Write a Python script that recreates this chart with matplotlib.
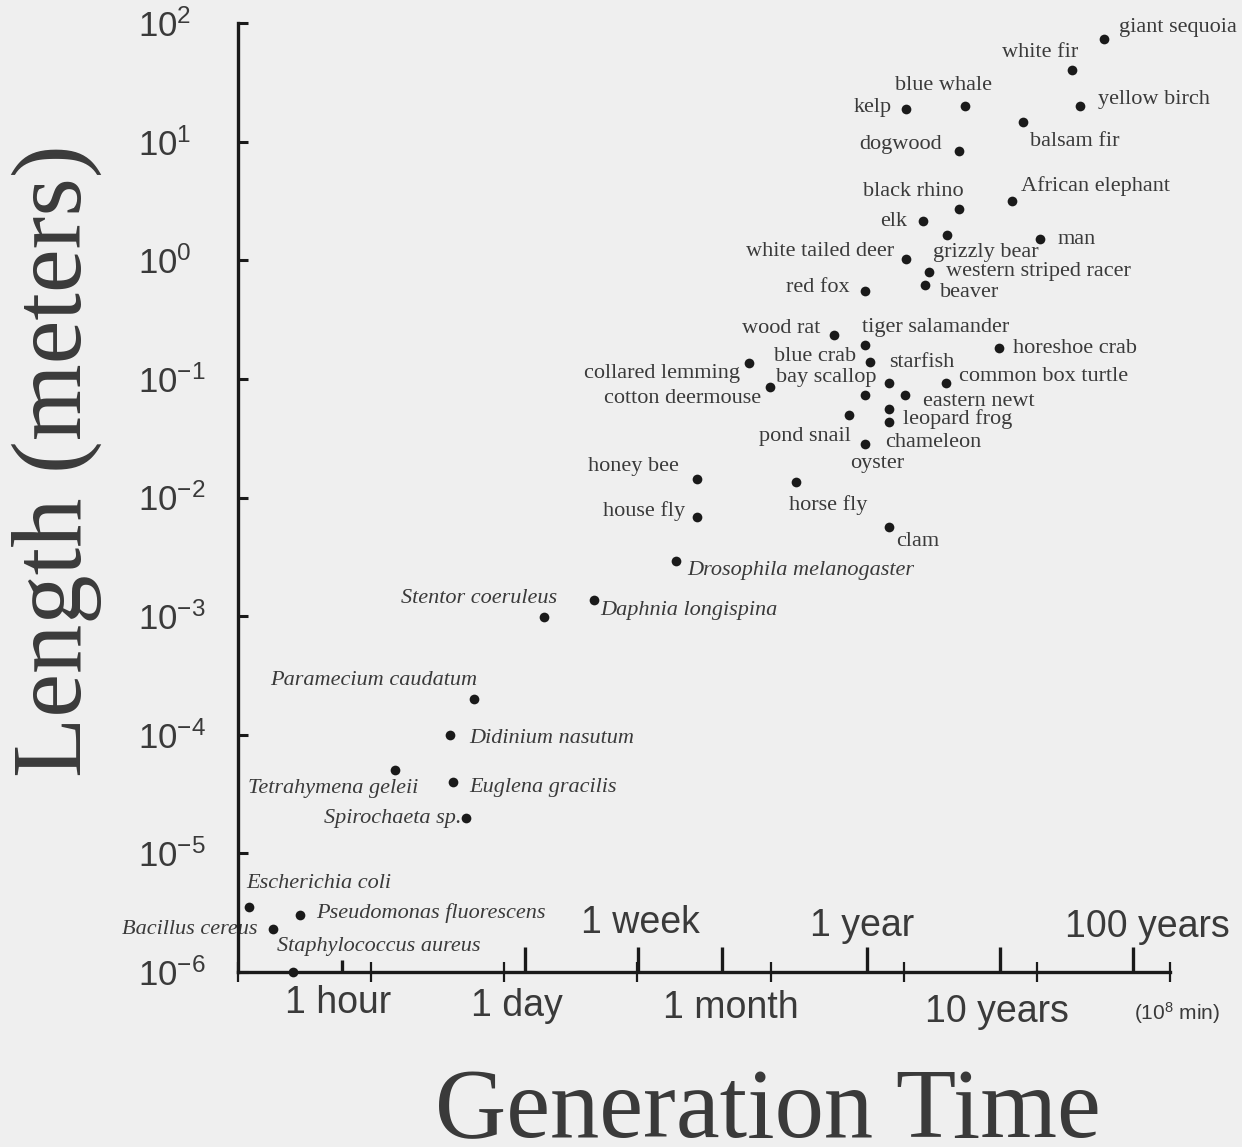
import matplotlib
matplotlib.use("Agg")
import matplotlib.pyplot as plt
from matplotlib.ticker import FixedLocator, NullFormatter

plt.rcParams["mathtext.fontset"] = "custom"
plt.rcParams["mathtext.rm"] = "Liberation Sans"
plt.rcParams["mathtext.it"] = "Liberation Sans:italic"

# ── data: generation time (minutes) vs. body length (meters) ──────────
names = [
    "giant sequoia", "white fir", "yellow birch", "blue whale", "kelp",
    "balsam fir", "dogwood", "African elephant", "black rhino", "elk",
    "grizzly bear", "man", "white tailed deer", "western striped racer",
    "beaver", "red fox",
    "wood rat", "tiger salamander", "blue crab", "horeshoe crab",
    "collared lemming", "cotton deermouse", "starfish", "eastern newt",
    "bay scallop", "common box turtle", "pond snail", "leopard frog",
    "chameleon", "oyster",
    "honey bee", "horse fly", "house fly", "clam",
    "Drosophila melanogaster", "Daphnia longispina", "Stentor coeruleus",
    "Paramecium caudatum", "Didinium nasutum", "Tetrahymena geleii",
    "Euglena gracilis", "Spirochaeta sp.", "Escherichia coli",
    "Bacillus cereus", "Pseudomonas fluorescens", "Staphylococcus aureus",
]
gen_time_min = [
    3.2e7, 1.85e7, 2.1e7, 2.9e6, 1.04e6,
    7.9e6, 2.6e6, 6.5e6, 2.6e6, 1.4e6,
    2.1e6, 1.06e7, 1.04e6, 1.56e6,
    1.45e6, 5.1e5,
    3.0e5, 5.1e5, 5.6e5, 5.2e6,
    6.9e4, 9.9e4, 7.8e5, 1.02e6,
    5.1e5, 2.07e6, 3.9e5, 7.7e5,
    7.7e5, 5.1e5,
    2.8e4, 1.56e5, 2.8e4, 7.7e5,
    1.95e4, 4.7e3, 2.0e3,
    590, 390, 150,
    410, 520, 12.2,
    18.2, 29, 26,
]
length_m = [
    73, 40, 20, 20, 18.8,
    14.6, 8.3, 3.16, 2.7, 2.14,
    1.63, 1.51, 1.02, 0.80,
    0.62, 0.55,
    0.234, 0.193, 0.139, 0.182,
    0.135, 0.085, 0.093, 0.073,
    0.073, 0.092, 0.050, 0.056,
    0.0435, 0.028,
    0.0143, 0.0135, 0.0068, 0.0056,
    0.0029, 0.00137, 0.00099,
    2.0e-4, 1.0e-4, 5.0e-5,
    4.0e-5, 2.0e-5, 3.5e-6,
    2.3e-6, 3.0e-6, 1.0e-6,
]
italic_names = [
    "Drosophila melanogaster", "Daphnia longispina", "Stentor coeruleus",
    "Paramecium caudatum", "Didinium nasutum", "Tetrahymena geleii",
    "Euglena gracilis", "Spirochaeta sp.", "Escherichia coli",
    "Bacillus cereus", "Pseudomonas fluorescens", "Staphylococcus aureus",
]

# time-unit ticks along the x axis (minutes)
unit_ticks = [60, 1440, 10080, 43200, 525600, 5256000, 52560000]
unit_labels = ["1 hour", "1 day", "1 week", "1 month", "1 year", "10 years", "100 years"]
decade_ticks = [1e1, 1e2, 1e3, 1e4, 1e5, 1e6, 1e7, 1e8]
y_ticks = [1e-6, 1e-5, 1e-4, 1e-3, 1e-2, 1e-1, 1e0, 1e1, 1e2]

# ── label layout: (ha, dx, dy) in pixels from the dot, y downward ─────
label_layout = [
    ("left", 15, -12), ("right", 6, -18), ("left", 18, -6), ("center", -22, -20), ("right", -14, -2),
    ("left", 7, 19), ("right", -17, -7), ("left", 9, -15), ("right", 5, -18), ("right", -16, 0),
    ("left", -14, 17), ("left", 17, 0), ("right", -12, -8), ("left", 17, 0),
    ("left", 15, 8), ("right", -15, -4),
    ("right", -14, -7), ("left", -3, -18), ("right", -14, -5), ("left", 14, 0),
    ("right", -9, 10), ("right", -9, 11), ("left", 0, -20), ("left", 18, 6),
    ("right", 12, -18), ("left", 13, -7), ("right", 2, 22), ("left", 14, 10),
    ("left", -3, 21), ("center", 12, 19),
    ("right", -18, -13), ("left", -7, 23), ("right", -12, -6), ("left", 8, 14),
    ("left", 11, 9), ("left", 6, 11), ("right", 13, -18),
    ("right", 3, -19), ("left", 19, 4), ("right", 24, 18),
    ("left", 17, 6), ("right", -5, 1), ("left", -3, -24),
    ("right", -15, 0), ("left", 17, -2), ("left", -16, -25),
]
# (dx, dy) pixels for time-unit labels relative to their tick on the axis
unit_label_pos = [(-4, 31), (-8, 34), (2, -49), (9, 36), (-4, -46), (-3, 40), (15, -45)]

PX = 0.72  # pixels -> points at dpi 100
BG = "#efefef"
INK = "#1a1a1a"
TXT = "#3a3a3a"

fig = plt.figure(figsize=(12.42, 11.47), dpi=100, facecolor=BG)
ax = fig.add_axes([238 / 1242, 1 - 972 / 1147, (1170 - 238) / 1242, (972 - 23) / 1147])
ax.set_facecolor(BG)

ax.set_xscale("log")
ax.set_yscale("log")
ax.set_xlim(1e1, 1e8)
ax.set_ylim(1e-6, 1e2)

for side in ("top", "right"):
    ax.spines[side].set_visible(False)
for side in ("left", "bottom"):
    ax.spines[side].set_linewidth(2.4)
    ax.spines[side].set_color(INK)

# points
ax.plot(gen_time_min, length_m, "o", ms=7, color=INK, mew=0, zorder=4, clip_on=False)

# point labels
for name, x, y, (ha, dx, dy) in zip(names, gen_time_min, length_m, label_layout):
    ax.annotate(
        name, (x, y), xytext=(dx * PX, -dy * PX), textcoords="offset points",
        ha=ha, va="center", fontsize=16, color=TXT, zorder=2,
        family="Liberation Serif",
        style="italic" if name in italic_names else "normal",
        annotation_clip=False,
    )

# y axis ticks
ax.yaxis.set_major_locator(FixedLocator(y_ticks))
ax.yaxis.set_minor_locator(FixedLocator([]))
ax.set_yticklabels([rf"$10^{{{int(round(__import__('math').log10(v)))}}}$" for v in y_ticks])
ax.tick_params(axis="y", which="major", direction="in", length=7, width=2.2,
               color=INK, labelsize=25, labelcolor=TXT, pad=72)
for lbl in ax.get_yticklabels():
    lbl.set_horizontalalignment("left")

# x axis: decade ticks (unlabelled) and time-unit ticks
ax.xaxis.set_major_locator(FixedLocator(decade_ticks))
ax.xaxis.set_major_formatter(NullFormatter())
ax.xaxis.set_minor_locator(FixedLocator(unit_ticks))
ax.xaxis.set_minor_formatter(NullFormatter())
ax.tick_params(axis="x", which="major", direction="inout", length=15, width=1.6, color=INK)
ax.tick_params(axis="x", which="minor", direction="in", length=18, width=2.4, color=INK)
ax.xaxis.get_minor_ticks()[0].tick1line.set_markersize(9)

xt = ax.get_xaxis_transform()
for t, lab, (dx, dy) in zip(unit_ticks, unit_labels, unit_label_pos):
    ax.annotate(lab, (t, 0), xycoords=xt, xytext=(dx * PX, -dy * PX),
                textcoords="offset points", ha="center", va="center",
                fontsize=27, color=TXT, family="Liberation Sans", annotation_clip=False)
ax.annotate(r"(10$^8$ min)", (1e8, 0), xycoords=xt, xytext=(7 * PX, -41 * PX),
            textcoords="offset points", ha="center", va="center",
            fontsize=15, color=TXT, family="Liberation Sans", annotation_clip=False)

# axis titles
fig.text(57 / 1242, 1 - 461 / 1147, "Length (meters)", rotation=90, ha="center", va="center",
         fontsize=71, color=TXT, family="Liberation Serif")
fig.text(768 / 1242, 1 - 1137 / 1147, "Generation Time", ha="center", va="baseline",
         fontsize=71, color=TXT, family="Liberation Serif")

fig.savefig("out.png", dpi=100, facecolor=BG)
